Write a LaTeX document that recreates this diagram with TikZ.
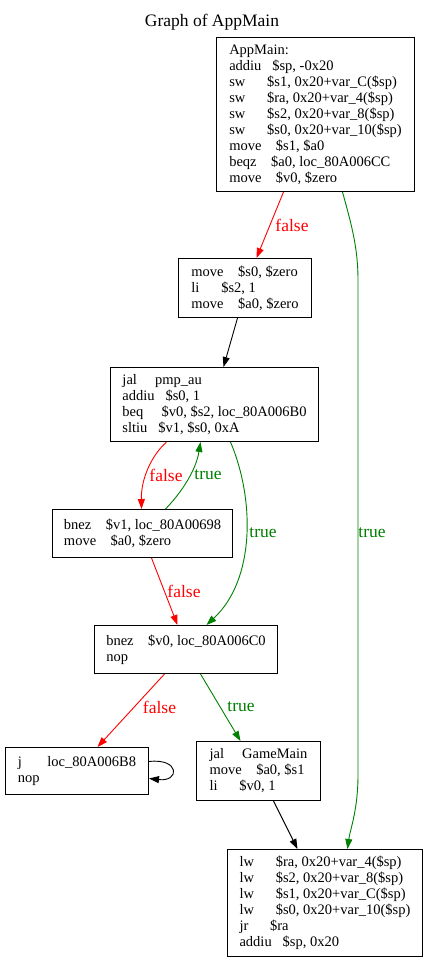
\documentclass[tikz,border=0pt]{standalone}
\usepackage{fontspec}
\setmainfont{Liberation Serif}
\usetikzlibrary{arrows.meta,positioning}
\definecolor{gvgreen}{RGB}{0,128,0}

\begin{document}
\begin{tikzpicture}[x=1pt,y=-1pt,
  blk/.style={draw,line width=1pt,anchor=north west,align=left,inner xsep=10pt,font=\fontsize{14.5}{16}\selectfont},
  lbl/.style={font=\fontsize{17.5}{18}\selectfont},
  arr/.style={line width=0.9pt,-{Triangle[length=10pt,width=7pt]}},
  tru/.style={arr,gvgreen},
  fls/.style={arr,red}]
  \useasboundingbox (0,0) rectangle (427,961);
  \node[lbl,anchor=base] (title) at (212,26) {Graph of AppMain};

  \node[blk,minimum width=198pt,minimum height=154pt] (main) at (216,37) {AppMain:\\
    addiu~~~\$sp, -0x20\\
    sw~~~~~~\$s1, 0x20+var\_C(\$sp)\\
    sw~~~~~~\$ra, 0x20+var\_4(\$sp)\\
    sw~~~~~~\$s2, 0x20+var\_8(\$sp)\\
    sw~~~~~~\$s0, 0x20+var\_10(\$sp)\\
    move~~~~\$s1, \$a0\\
    beqz~~~~\$a0, loc\_80A006CC\\
    move~~~~\$v0, \$zero};
  \node[blk,minimum width=133pt,minimum height=59pt] (init) at (178,258) {move~~~~\$s0, \$zero\\
    li~~~~~~\$s2, 1\\
    move~~~~\$a0, \$zero};
  \node[blk,minimum width=208pt,minimum height=74pt] (loop) at (110,367) {jal~~~~~pmp\_au\\
    addiu~~~\$s0, 1\\
    beq~~~~~\$v0, \$s2, loc\_80A006B0\\
    sltiu~~~\$v1, \$s0, 0xA};
  \node[blk,minimum width=180pt,minimum height=48pt] (chk) at (52,509) {bnez~~~~\$v1, loc\_80A00698\\
    move~~~~\$a0, \$zero};
  \node[blk,minimum width=183pt,minimum height=48pt] (test) at (94,625) {bnez~~~~\$v0, loc\_80A006C0\\
    nop};
  \node[blk,minimum width=143pt,minimum height=47pt] (hang) at (5,747) {j~~~~~~~loc\_80A006B8\\
    nop};
  \node[blk,minimum width=124pt,minimum height=59pt] (game) at (196,741) {jal~~~~~GameMain\\
    move~~~~\$a0, \$s1\\
    li~~~~~~\$v0, 1};
  \node[blk,minimum width=195pt,minimum height=107pt] (ret) at (227,849) {lw~~~~~~\$ra, 0x20+var\_4(\$sp)\\
    lw~~~~~~\$s2, 0x20+var\_8(\$sp)\\
    lw~~~~~~\$s1, 0x20+var\_C(\$sp)\\
    lw~~~~~~\$s0, 0x20+var\_10(\$sp)\\
    jr~~~~~~\$ra\\
    addiu~~~\$sp, 0x20};

  \draw[fls] ([xshift=-32pt]main.south) -- ([xshift=11.5pt]init.north) node[lbl,at={(292,225)}] {false};
  \draw[tru] ([xshift=27pt]main.south) .. controls (350,220) and (358,245) .. (358,280) -- (358,775) .. controls (358,810) and (350,830) .. ([xshift=22.5pt]ret.north) node[lbl,at={(372,533)}] {true};
  \draw[arr] ([xshift=-7.5pt]init.south) -- ([xshift=9pt]loop.north);
  \draw[fls] ([xshift=-48pt]loop.south) .. controls (152,455) and (141,478) .. ([xshift=-1pt]chk.north) node[lbl,at={(166,475)}] {false};
  \draw[tru] ([xshift=23pt]chk.north) .. controls (182,492) and (196,470) .. ([xshift=-14pt]loop.south) node[lbl,at={(208,475)}] {true};
  \draw[tru] ([xshift=16pt]loop.south) .. controls (255,500) and (255,580) .. ([xshift=20.5pt]test.north) node[lbl,at={(263,533)}] {true};
  \draw[fls] ([xshift=9pt]chk.south) -- ([xshift=-8.5pt]test.north) node[lbl,at={(184,591)}] {false};
  \draw[fls] ([xshift=-21.5pt]test.south) -- ([xshift=20.5pt]hang.north) node[lbl,at={(159.5,707)}] {false};
  \draw[tru] ([xshift=14.5pt]test.south) -- ([xshift=-18pt]game.north) node[lbl,at={(241,707)}] {true};
  \draw[arr] ([yshift=9.5pt]hang.east) .. controls (180,758) and (180,782) .. ([yshift=-7.5pt]hang.east);
  \draw[arr] ([xshift=15pt]game.south) -- ([xshift=-27.5pt]ret.north);
\end{tikzpicture}
\end{document}
